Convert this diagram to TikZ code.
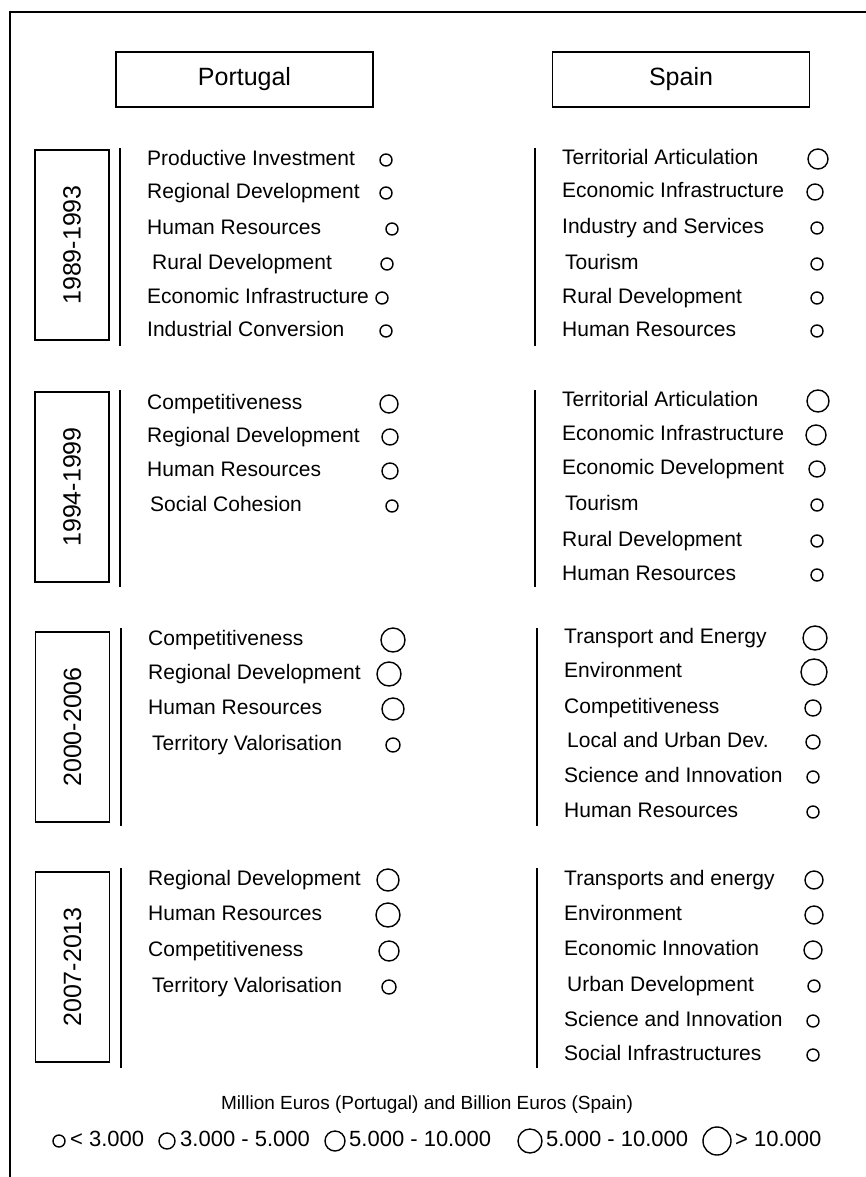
\documentclass[tikz,border=0pt]{standalone}
\usepackage{fontspec}
\setmainfont{Liberation Sans}

\begin{document}
\begin{tikzpicture}[x=1pt,y=-1pt,
	item/.style={anchor=mid west, inner sep=0pt, yshift=-3pt, font=\fontsize{21}{25}\selectfont},
	dot/.style={circle, draw, line width=1.4pt, inner sep=0pt, minimum size=#1},
	period/.style={draw, line width=1.4pt, rotate=90, minimum height=74pt, minimum width=190pt, font=\fontsize{25}{30}\selectfont},
	country/.style={draw, line width=1.4pt, minimum height=55pt, minimum width=257pt, font=\fontsize{25}{30}\selectfont}]
		\useasboundingbox (0,0) rectangle (866,1177);
		
		% Outer frame (only top and left visible)
		\draw[line width=1.4pt] (10,1177) -- (10,12) -- (866,12);
		
		% Country headers
		\node[country] (portugal) at (244.5,79.5) {Portugal};
		\node[country] (spain) at (681,79.5) {Spain};
		
		% Periods
		\node[period] (p1) at (72,245) {1989-1993};
		\node[period] (p2) at (72,487) {1994-1999};
		\node[period] (p3) at (72.5,727) {2000-2006};
		\node[period] (p4) at (72.5,967) {2007-2013};
		
		% Separating lines
		\draw[line width=1.6pt] (120,148) -- (120,346);
		\draw[line width=1.6pt] (535,148) -- (535,346);
		\draw[line width=1.6pt] (120,390) -- (120,587);
		\draw[line width=1.6pt] (535,390) -- (535,587);
		\draw[line width=1.6pt] (121,628) -- (121,826);
		\draw[line width=1.6pt] (537,628) -- (537,826);
		\draw[line width=1.6pt] (121,868) -- (121,1068);
		\draw[line width=1.6pt] (537,868) -- (537,1068);
		
		% 1989-1993
		\foreach \tx/\ty/\lbl/\cx/\r [count=\i] in {
			147/160/Productive Investment/386/6,
			147/193/Regional Development/386/6,
			147/229/Human Resources/392/6,
			152/264/Rural Development/387/6,
			147/298/Economic Infrastructure/382/6,
			147/331/Industrial Conversion/386/6} {
			\node[item] (pt1-\i) at (\tx,\ty) {\lbl};
			\node[dot=2*\r pt] (pt1c-\i) at (\cx,\ty) {};
		}
		\foreach \tx/\ty/\lbl/\cx/\r [count=\i] in {
			562/159/Territorial Articulation/818/10,
			562/192/Economic Infrastructure/815/8,
			562/228/Industry and Services/817/6,
			565/264/Tourism/817/6,
			562/298/Rural Development/817/6,
			562/331/Human Resources/817/6} {
			\node[item] (es1-\i) at (\tx,\ty) {\lbl};
			\node[dot=2*\r pt] (es1c-\i) at (\cx,\ty) {};
		}
		
		% 1994-1999
		\foreach \tx/\ty/\lbl/\cx/\r [count=\i] in {
			147/404/Competitiveness/389/9,
			147/437/Regional Development/390/8,
			147/471/Human Resources/390/8,
			150/506/Social Cohesion/392/6} {
			\node[item] (pt2-\i) at (\tx,\ty) {\lbl};
			\node[dot=2*\r pt] (pt2c-\i) at (\cx,\ty) {};
		}
		\foreach \tx/\ty/\lbl/\cx/\r [count=\i] in {
			562/401/Territorial Articulation/818/11,
			562/435/Economic Infrastructure/816/10,
			562/469/Economic Development/817/8,
			565/505/Tourism/817/6,
			562/541/Rural Development/817/6,
			562/575/Human Resources/817/6} {
			\node[item] (es2-\i) at (\tx,\ty) {\lbl};
			\node[dot=2*\r pt] (es2c-\i) at (\cx,\ty) {};
		}
		
		% 2000-2006
		\foreach \tx/\ty/\lbl/\cx/\r [count=\i] in {
			148/640/Competitiveness/393/12,
			148/674/Regional Development/389/12,
			148/709/Human Resources/393/11,
			152/745/Territory Valorisation/393/7} {
			\node[item] (pt3-\i) at (\tx,\ty) {\lbl};
			\node[dot=2*\r pt] (pt3c-\i) at (\cx,\ty) {};
		}
		\foreach \tx/\ty/\lbl/\cx/\r [count=\i] in {
			564/638/Transport and Energy/815/12,
			564/672/Environment/814/13,
			564/708/Competitiveness/813/8,
			567/742/Local and Urban Dev./813/7,
			564/777/Science and Innovation/813/6,
			564/812/Human Resources/813/6} {
			\node[item] (es3-\i) at (\tx,\ty) {\lbl};
			\node[dot=2*\r pt] (es3c-\i) at (\cx,\ty) {};
		}
		
		% 2007-2013
		\foreach \tx/\ty/\lbl/\cx/\r [count=\i] in {
			148/880/Regional Development/388/11,
			148/915/Human Resources/388/12,
			148/951/Competitiveness/389/10,
			152/987/Territory Valorisation/389/7} {
			\node[item] (pt4-\i) at (\tx,\ty) {\lbl};
			\node[dot=2*\r pt] (pt4c-\i) at (\cx,\ty) {};
		}
		\foreach \tx/\ty/\lbl/\cx/\r [count=\i] in {
			564/880/Transports and energy/814/9,
			564/915/Environment/814/9,
			564/950/Economic Innovation/813/9,
			567/986/Urban Development/814/6,
			564/1021/Science and Innovation/813/6,
			564/1055/Social Infrastructures/813/6} {
			\node[item] (es4-\i) at (\tx,\ty) {\lbl};
			\node[dot=2*\r pt] (es4c-\i) at (\cx,\ty) {};
		}
		
		% Legend
		\node[font=\fontsize{19}{23}\selectfont] (legtitle) at (427,1105) {Million Euros (Portugal) and Billion Euros (Spain)};
		\foreach \cx/\r/\tx/\lbl [count=\i] in {
			59/6/70/< 3.000,
			167/8/180/3.000 - 5.000,
			335/10/349/5.000 - 10.000,
			530/12/546/5.000 - 10.000,
			717/14/735/> 10.000} {
			\node[dot=2*\r pt] (legc-\i) at (\cx,1141) {};
			\node[item, font=\fontsize{22}{26}\selectfont] (leg-\i) at (\tx,1141) {\lbl};
		}
	\end{tikzpicture}
\end{document}
